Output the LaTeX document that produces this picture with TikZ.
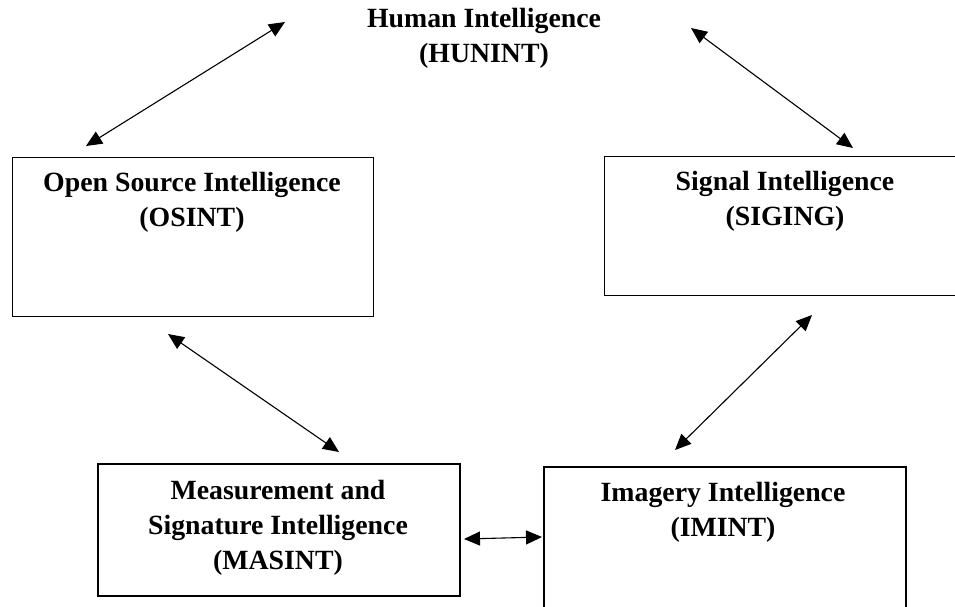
\documentclass[tikz,border=0pt]{standalone}
\usepackage{fontspec}
\setmainfont{Liberation Serif}
\usetikzlibrary{arrows.meta}
\tikzset{
  thinbox/.style={draw=black, line width=1.1pt, inner sep=0pt, anchor=north west},
  thickbox/.style={draw=black, line width=2pt, inner sep=0pt, anchor=north west},
  lbl/.style={align=center, inner sep=0pt, font=\bfseries\fontsize{27.8}{35}\selectfont},
  link/.style={line width=1.1pt, {Triangle[length=16pt,width=14pt]}-{Triangle[length=16pt,width=14pt]}}
}
\begin{document}
\begin{tikzpicture}[x=1pt,y=-1pt]
\useasboundingbox (0,0) rectangle (955,606);
\begin{scope}
\clip (0,0) rectangle (955,606);
\node[thinbox, minimum width=361pt, minimum height=159pt] (osint) at (12,157) {};
\node[thinbox, minimum width=380pt, minimum height=139pt] (sigint) at (604,156) {};
\node[thickbox, minimum width=362pt, minimum height=132pt] (masint) at (97,463) {};
\node[thickbox, minimum width=362pt, minimum height=170pt] (imint) at (543,466) {};
\end{scope}
\node[lbl] (humint) at (484,38) {Human Intelligence\\(HUNINT)};
\node[lbl] (osinttext) at (192,202) {Open Source Intelligence\\(OSINT)};
\node[lbl] (siginttext) at (785,201) {Signal Intelligence\\(SIGING)};
\node[lbl] (masinttext) at (278,528) {Measurement and\\Signature Intelligence\\(MASINT)};
\node[lbl] (iminttext) at (723,512) {Imagery Intelligence\\(IMINT)};
\coordinate (a1s) at (86,146);
\coordinate (a1e) at (285,22);
\coordinate (a2s) at (691,28);
\coordinate (a2e) at (853,148);
\coordinate (a3s) at (168,334);
\coordinate (a3e) at (339,452);
\coordinate (a4s) at (812,315);
\coordinate (a4e) at (675,450);
\coordinate (a5s) at (464,539);
\coordinate (a5e) at (542,537);
\draw[link] (a1s) -- (a1e);
\draw[link] (a2s) -- (a2e);
\draw[link] (a3s) -- (a3e);
\draw[link] (a4s) -- (a4e);
\draw[link] (a5s) -- (a5e);
\end{tikzpicture}
\end{document}
